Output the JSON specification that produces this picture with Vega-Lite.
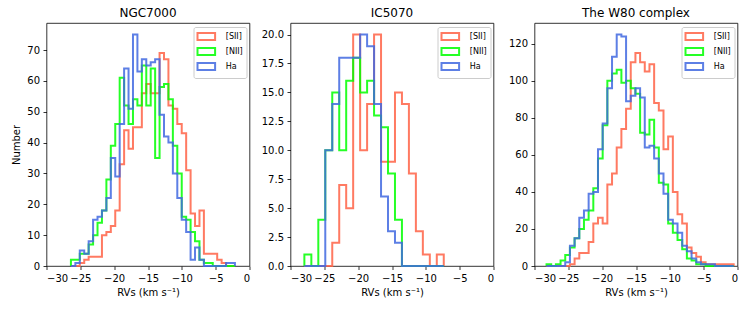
{
  "$schema": "https://vega.github.io/schema/vega-lite/v6.json",
  "padding": {"left": 10.5, "top": 6, "right": 5, "bottom": 5},
  "background": "white",
  "bounds": "flush",
  "spacing": 41,
  "resolve": {"legend": {"color": "independent"}},
  "config": {
    "font": "DejaVu Sans",
    "view": {"stroke": "#000000", "strokeWidth": 0.8},
    "axis": {"domain": false, "grid": false, "tickColor": "#000000", "tickSize": 3.5, "tickWidth": 0.8, "labelFontSize": 10, "labelColor": "#000000", "labelPadding": 3.5, "titleFontSize": 10, "titleFontWeight": "normal", "titleColor": "#000000", "labelFont": "DejaVu Sans", "titleFont": "DejaVu Sans"},
    "axisX": {"titlePadding": 4},
    "axisY": {"titlePadding": 5},
    "title": {"fontSize": 12, "fontWeight": "normal", "color": "#000000", "offset": 3, "font": "DejaVu Sans"},
    "legend": {"title": null, "orient": "top-right", "offset": 3.5, "symbolType": "M-1.6,-0.64H1.6V0.64H-1.6Z", "symbolSize": 121, "symbolStrokeWidth": 2, "symbolOffset": 3.3, "symbolFillColor": "transparent", "labelFontSize": 8, "labelFont": "DejaVu Sans", "labelColor": "#000000", "labelOffset": 13, "padding": 3, "rowPadding": -5, "strokeColor": "#cccccc", "fillColor": "rgba(255,255,255,0.8)", "cornerRadius": 2}
  },
  "datasets": {
    "p1": [
      {"s":"[SII]","x":-26.39,"n":0},{"s":"[SII]","x":-26.39,"n":0},{"s":"[SII]","x":-25.735,"n":0},{"s":"[SII]","x":-25.08,"n":1},{"s":"[SII]","x":-24.425,"n":2},{"s":"[SII]","x":-23.77,"n":3},{"s":"[SII]","x":-23.115,"n":3},{"s":"[SII]","x":-22.46,"n":3},{"s":"[SII]","x":-21.805,"n":10},{"s":"[SII]","x":-21.15,"n":11},{"s":"[SII]","x":-20.495,"n":13},{"s":"[SII]","x":-19.84,"n":18},{"s":"[SII]","x":-19.185,"n":33},{"s":"[SII]","x":-18.53,"n":44},{"s":"[SII]","x":-17.875,"n":38},{"s":"[SII]","x":-17.22,"n":45},{"s":"[SII]","x":-16.565,"n":45},{"s":"[SII]","x":-15.91,"n":56},{"s":"[SII]","x":-15.255,"n":59},{"s":"[SII]","x":-14.6,"n":56},{"s":"[SII]","x":-13.945,"n":56},{"s":"[SII]","x":-13.29,"n":69},{"s":"[SII]","x":-12.635,"n":67},{"s":"[SII]","x":-11.98,"n":52},{"s":"[SII]","x":-11.325,"n":51},{"s":"[SII]","x":-10.67,"n":46},{"s":"[SII]","x":-10.015,"n":43},{"s":"[SII]","x":-9.36,"n":31},{"s":"[SII]","x":-8.705,"n":17},{"s":"[SII]","x":-8.05,"n":13},{"s":"[SII]","x":-7.395,"n":18},{"s":"[SII]","x":-6.74,"n":4},{"s":"[SII]","x":-6.085,"n":4},{"s":"[SII]","x":-5.43,"n":4},{"s":"[SII]","x":-4.775,"n":2},{"s":"[SII]","x":-4.12,"n":1},{"s":"[SII]","x":-3.465,"n":0},{"s":"[SII]","x":-2.81,"n":0},{"s":"[SII]","x":-2.155,"n":0},
      {"s":"[NII]","x":-26.39,"n":0},{"s":"[NII]","x":-26.39,"n":2},{"s":"[NII]","x":-25.735,"n":2},{"s":"[NII]","x":-25.08,"n":4},{"s":"[NII]","x":-24.425,"n":4},{"s":"[NII]","x":-23.77,"n":7},{"s":"[NII]","x":-23.115,"n":10},{"s":"[NII]","x":-22.46,"n":14},{"s":"[NII]","x":-21.805,"n":18},{"s":"[NII]","x":-21.15,"n":28},{"s":"[NII]","x":-20.495,"n":39},{"s":"[NII]","x":-19.84,"n":46},{"s":"[NII]","x":-19.185,"n":61},{"s":"[NII]","x":-18.53,"n":52},{"s":"[NII]","x":-17.875,"n":46},{"s":"[NII]","x":-17.22,"n":54},{"s":"[NII]","x":-16.565,"n":52},{"s":"[NII]","x":-15.91,"n":65},{"s":"[NII]","x":-15.255,"n":52},{"s":"[NII]","x":-14.6,"n":64},{"s":"[NII]","x":-13.945,"n":35},{"s":"[NII]","x":-13.29,"n":58},{"s":"[NII]","x":-12.635,"n":59},{"s":"[NII]","x":-11.98,"n":54},{"s":"[NII]","x":-11.325,"n":39},{"s":"[NII]","x":-10.67,"n":30},{"s":"[NII]","x":-10.015,"n":16},{"s":"[NII]","x":-9.36,"n":15},{"s":"[NII]","x":-8.705,"n":11},{"s":"[NII]","x":-8.05,"n":8},{"s":"[NII]","x":-7.395,"n":2},{"s":"[NII]","x":-6.74,"n":1},{"s":"[NII]","x":-6.085,"n":1},{"s":"[NII]","x":-5.43,"n":0},{"s":"[NII]","x":-4.775,"n":0},{"s":"[NII]","x":-4.12,"n":0},{"s":"[NII]","x":-3.465,"n":0},{"s":"[NII]","x":-2.81,"n":0},{"s":"[NII]","x":-2.155,"n":0},
      {"s":"Ha","x":-26.39,"n":0},{"s":"Ha","x":-26.39,"n":0},{"s":"Ha","x":-25.735,"n":1},{"s":"Ha","x":-25.08,"n":5},{"s":"Ha","x":-24.425,"n":4},{"s":"Ha","x":-23.77,"n":8},{"s":"Ha","x":-23.115,"n":15},{"s":"Ha","x":-22.46,"n":16},{"s":"Ha","x":-21.805,"n":18},{"s":"Ha","x":-21.15,"n":22},{"s":"Ha","x":-20.495,"n":35},{"s":"Ha","x":-19.84,"n":29},{"s":"Ha","x":-19.185,"n":46},{"s":"Ha","x":-18.53,"n":64},{"s":"Ha","x":-17.875,"n":51},{"s":"Ha","x":-17.22,"n":75},{"s":"Ha","x":-16.565,"n":63},{"s":"Ha","x":-15.91,"n":67},{"s":"Ha","x":-15.255,"n":65},{"s":"Ha","x":-14.6,"n":66},{"s":"Ha","x":-13.945,"n":67},{"s":"Ha","x":-13.29,"n":49},{"s":"Ha","x":-12.635,"n":42},{"s":"Ha","x":-11.98,"n":40},{"s":"Ha","x":-11.325,"n":30},{"s":"Ha","x":-10.67,"n":22},{"s":"Ha","x":-10.015,"n":15},{"s":"Ha","x":-9.36,"n":11},{"s":"Ha","x":-8.705,"n":2},{"s":"Ha","x":-8.05,"n":6},{"s":"Ha","x":-7.395,"n":2},{"s":"Ha","x":-6.74,"n":0},{"s":"Ha","x":-6.085,"n":0},{"s":"Ha","x":-5.43,"n":0},{"s":"Ha","x":-4.775,"n":0},{"s":"Ha","x":-4.12,"n":0},{"s":"Ha","x":-3.465,"n":1},{"s":"Ha","x":-2.81,"n":1},{"s":"Ha","x":-2.155,"n":0}
    ],
    "p2": [
      {"s":"[SII]","x":-27.95,"n":0},{"s":"[SII]","x":-27.95,"n":0},{"s":"[SII]","x":-26.92,"n":0},{"s":"[SII]","x":-25.89,"n":0},{"s":"[SII]","x":-24.86,"n":0},{"s":"[SII]","x":-23.83,"n":2},{"s":"[SII]","x":-22.8,"n":7},{"s":"[SII]","x":-21.77,"n":5},{"s":"[SII]","x":-20.74,"n":20},{"s":"[SII]","x":-19.71,"n":10},{"s":"[SII]","x":-18.68,"n":14},{"s":"[SII]","x":-17.65,"n":20},{"s":"[SII]","x":-16.62,"n":9},{"s":"[SII]","x":-15.59,"n":9},{"s":"[SII]","x":-14.56,"n":15},{"s":"[SII]","x":-13.53,"n":14},{"s":"[SII]","x":-12.5,"n":8},{"s":"[SII]","x":-11.47,"n":3},{"s":"[SII]","x":-10.44,"n":1},{"s":"[SII]","x":-9.41,"n":0},{"s":"[SII]","x":-8.38,"n":1},{"s":"[SII]","x":-7.35,"n":0},
      {"s":"[NII]","x":-27.95,"n":0},{"s":"[NII]","x":-27.95,"n":1},{"s":"[NII]","x":-26.92,"n":0},{"s":"[NII]","x":-25.89,"n":4},{"s":"[NII]","x":-24.86,"n":10},{"s":"[NII]","x":-23.83,"n":15},{"s":"[NII]","x":-22.8,"n":10},{"s":"[NII]","x":-21.77,"n":16},{"s":"[NII]","x":-20.74,"n":18},{"s":"[NII]","x":-19.71,"n":15},{"s":"[NII]","x":-18.68,"n":16},{"s":"[NII]","x":-17.65,"n":13},{"s":"[NII]","x":-16.62,"n":12},{"s":"[NII]","x":-15.59,"n":8},{"s":"[NII]","x":-14.56,"n":4},{"s":"[NII]","x":-13.53,"n":0},{"s":"[NII]","x":-12.5,"n":0},{"s":"[NII]","x":-11.47,"n":0},{"s":"[NII]","x":-10.44,"n":0},{"s":"[NII]","x":-9.41,"n":0},{"s":"[NII]","x":-8.38,"n":0},{"s":"[NII]","x":-7.35,"n":0},
      {"s":"Ha","x":-27.95,"n":0},{"s":"Ha","x":-27.95,"n":0},{"s":"Ha","x":-26.92,"n":0},{"s":"Ha","x":-25.89,"n":0},{"s":"Ha","x":-24.86,"n":10},{"s":"Ha","x":-23.83,"n":14},{"s":"Ha","x":-22.8,"n":18},{"s":"Ha","x":-21.77,"n":18},{"s":"Ha","x":-20.74,"n":18},{"s":"Ha","x":-19.71,"n":20},{"s":"Ha","x":-18.68,"n":19},{"s":"Ha","x":-17.65,"n":14},{"s":"Ha","x":-16.62,"n":6},{"s":"Ha","x":-15.59,"n":3},{"s":"Ha","x":-14.56,"n":2},{"s":"Ha","x":-13.53,"n":0},{"s":"Ha","x":-12.5,"n":0},{"s":"Ha","x":-11.47,"n":0},{"s":"Ha","x":-10.44,"n":0},{"s":"Ha","x":-9.41,"n":0},{"s":"Ha","x":-8.38,"n":0},{"s":"Ha","x":-7.35,"n":0}
    ],
    "p3": [
      {"s":"[SII]","x":-28.222,"n":0},{"s":"[SII]","x":-28.222,"n":0},{"s":"[SII]","x":-27.531,"n":0},{"s":"[SII]","x":-26.839,"n":0},{"s":"[SII]","x":-26.148,"n":0},{"s":"[SII]","x":-25.456,"n":0},{"s":"[SII]","x":-24.765,"n":1},{"s":"[SII]","x":-24.074,"n":4},{"s":"[SII]","x":-23.382,"n":7},{"s":"[SII]","x":-22.691,"n":7},{"s":"[SII]","x":-21.999,"n":13},{"s":"[SII]","x":-21.308,"n":23},{"s":"[SII]","x":-20.617,"n":26},{"s":"[SII]","x":-19.925,"n":23},{"s":"[SII]","x":-19.234,"n":44},{"s":"[SII]","x":-18.542,"n":50},{"s":"[SII]","x":-17.851,"n":64},{"s":"[SII]","x":-17.16,"n":74},{"s":"[SII]","x":-16.468,"n":85},{"s":"[SII]","x":-15.777,"n":110},{"s":"[SII]","x":-15.085,"n":115},{"s":"[SII]","x":-14.394,"n":110},{"s":"[SII]","x":-13.703,"n":105},{"s":"[SII]","x":-13.011,"n":109},{"s":"[SII]","x":-12.32,"n":88},{"s":"[SII]","x":-11.628,"n":84},{"s":"[SII]","x":-10.937,"n":63},{"s":"[SII]","x":-10.246,"n":70},{"s":"[SII]","x":-9.554,"n":40},{"s":"[SII]","x":-8.863,"n":28},{"s":"[SII]","x":-8.171,"n":23},{"s":"[SII]","x":-7.48,"n":10},{"s":"[SII]","x":-6.789,"n":7},{"s":"[SII]","x":-6.097,"n":5},{"s":"[SII]","x":-5.406,"n":2},{"s":"[SII]","x":-4.714,"n":1},{"s":"[SII]","x":-4.023,"n":1},{"s":"[SII]","x":-3.332,"n":1},{"s":"[SII]","x":-2.64,"n":1},{"s":"[SII]","x":-1.949,"n":1},{"s":"[SII]","x":-1.257,"n":1},{"s":"[SII]","x":-0.566,"n":0},
      {"s":"[NII]","x":-28.222,"n":0},{"s":"[NII]","x":-28.222,"n":1},{"s":"[NII]","x":-27.531,"n":0},{"s":"[NII]","x":-26.839,"n":1},{"s":"[NII]","x":-26.148,"n":3},{"s":"[NII]","x":-25.456,"n":6},{"s":"[NII]","x":-24.765,"n":10},{"s":"[NII]","x":-24.074,"n":15},{"s":"[NII]","x":-23.382,"n":20},{"s":"[NII]","x":-22.691,"n":25},{"s":"[NII]","x":-21.999,"n":30},{"s":"[NII]","x":-21.308,"n":42},{"s":"[NII]","x":-20.617,"n":58},{"s":"[NII]","x":-19.925,"n":76},{"s":"[NII]","x":-19.234,"n":100},{"s":"[NII]","x":-18.542,"n":104},{"s":"[NII]","x":-17.851,"n":106},{"s":"[NII]","x":-17.16,"n":99},{"s":"[NII]","x":-16.468,"n":100},{"s":"[NII]","x":-15.777,"n":96},{"s":"[NII]","x":-15.085,"n":93},{"s":"[NII]","x":-14.394,"n":72},{"s":"[NII]","x":-13.703,"n":71},{"s":"[NII]","x":-13.011,"n":79},{"s":"[NII]","x":-12.32,"n":64},{"s":"[NII]","x":-11.628,"n":45},{"s":"[NII]","x":-10.937,"n":44},{"s":"[NII]","x":-10.246,"n":23},{"s":"[NII]","x":-9.554,"n":18},{"s":"[NII]","x":-8.863,"n":14},{"s":"[NII]","x":-8.171,"n":9},{"s":"[NII]","x":-7.48,"n":4},{"s":"[NII]","x":-6.789,"n":3},{"s":"[NII]","x":-6.097,"n":1},{"s":"[NII]","x":-5.406,"n":1},{"s":"[NII]","x":-4.714,"n":0},{"s":"[NII]","x":-4.023,"n":0},{"s":"[NII]","x":-3.332,"n":0},{"s":"[NII]","x":-2.64,"n":0},{"s":"[NII]","x":-1.949,"n":0},{"s":"[NII]","x":-1.257,"n":0},{"s":"[NII]","x":-0.566,"n":0},
      {"s":"Ha","x":-28.222,"n":0},{"s":"Ha","x":-28.222,"n":0},{"s":"Ha","x":-27.531,"n":0},{"s":"Ha","x":-26.839,"n":0},{"s":"Ha","x":-26.148,"n":0},{"s":"Ha","x":-25.456,"n":2},{"s":"Ha","x":-24.765,"n":11},{"s":"Ha","x":-24.074,"n":15},{"s":"Ha","x":-23.382,"n":26},{"s":"Ha","x":-22.691,"n":30},{"s":"Ha","x":-21.999,"n":39},{"s":"Ha","x":-21.308,"n":40},{"s":"Ha","x":-20.617,"n":63},{"s":"Ha","x":-19.925,"n":77},{"s":"Ha","x":-19.234,"n":96},{"s":"Ha","x":-18.542,"n":113},{"s":"Ha","x":-17.851,"n":125},{"s":"Ha","x":-17.16,"n":124},{"s":"Ha","x":-16.468,"n":89},{"s":"Ha","x":-15.777,"n":92},{"s":"Ha","x":-15.085,"n":96},{"s":"Ha","x":-14.394,"n":91},{"s":"Ha","x":-13.703,"n":64},{"s":"Ha","x":-13.011,"n":65},{"s":"Ha","x":-12.32,"n":58},{"s":"Ha","x":-11.628,"n":50},{"s":"Ha","x":-10.937,"n":39},{"s":"Ha","x":-10.246,"n":25},{"s":"Ha","x":-9.554,"n":23},{"s":"Ha","x":-8.863,"n":18},{"s":"Ha","x":-8.171,"n":11},{"s":"Ha","x":-7.48,"n":8},{"s":"Ha","x":-6.789,"n":4},{"s":"Ha","x":-6.097,"n":2},{"s":"Ha","x":-5.406,"n":1},{"s":"Ha","x":-4.714,"n":1},{"s":"Ha","x":-4.023,"n":1},{"s":"Ha","x":-3.332,"n":0},{"s":"Ha","x":-2.64,"n":0},{"s":"Ha","x":-1.949,"n":0},{"s":"Ha","x":-1.257,"n":0},{"s":"Ha","x":-0.566,"n":0}
    ]
  },
  "hconcat": [
    {
      "width": 203, "height": 243,
      "title": "NGC7000",
      "data": {"name": "p1"},
      "mark": {"type": "line", "interpolate": "step-after", "strokeWidth": 2, "opacity": 0.85},
      "encoding": {
        "x": {"field": "x", "type": "quantitative", "scale": {"domain": [-30, 0], "nice": false, "zero": false}, "axis": {"values": [-30, -25, -20, -15, -10, -5, 0], "title": "RVs (km s⁻¹)"}},
        "y": {"field": "n", "type": "quantitative", "scale": {"domain": [0, 78.75], "nice": false}, "axis": {"values": [0, 10, 20, 30, 40, 50, 60, 70], "title": "Number"}},
        "color": {"field": "s", "type": "nominal", "scale": {"domain": ["[SII]", "[NII]", "Ha"], "range": ["#ff6347", "#00ff00", "#4169e1"]}},
        "order": {"value": null}
      }
    },
    {
      "width": 203, "height": 243,
      "title": "IC5070",
      "data": {"name": "p2"},
      "mark": {"type": "line", "interpolate": "step-after", "strokeWidth": 2, "opacity": 0.85},
      "encoding": {
        "x": {"field": "x", "type": "quantitative", "scale": {"domain": [-30, 0], "nice": false, "zero": false}, "axis": {"values": [-30, -25, -20, -15, -10, -5, 0], "title": "RVs (km s⁻¹)"}},
        "y": {"field": "n", "type": "quantitative", "scale": {"domain": [0, 21], "nice": false}, "axis": {"values": [0, 2.5, 5, 7.5, 10, 12.5, 15, 17.5, 20], "format": ".1f", "title": null}},
        "color": {"field": "s", "type": "nominal", "scale": {"domain": ["[SII]", "[NII]", "Ha"], "range": ["#ff6347", "#00ff00", "#4169e1"]}},
        "order": {"value": null}
      }
    },
    {
      "width": 203, "height": 243,
      "title": "The W80 complex",
      "data": {"name": "p3"},
      "mark": {"type": "line", "interpolate": "step-after", "strokeWidth": 2, "opacity": 0.85},
      "encoding": {
        "x": {"field": "x", "type": "quantitative", "scale": {"domain": [-30, 0], "nice": false, "zero": false}, "axis": {"values": [-30, -25, -20, -15, -10, -5, 0], "title": "RVs (km s⁻¹)"}},
        "y": {"field": "n", "type": "quantitative", "scale": {"domain": [0, 131.25], "nice": false}, "axis": {"values": [0, 20, 40, 60, 80, 100, 120], "title": null}},
        "color": {"field": "s", "type": "nominal", "scale": {"domain": ["[SII]", "[NII]", "Ha"], "range": ["#ff6347", "#00ff00", "#4169e1"]}},
        "order": {"value": null}
      }
    }
  ]
}
